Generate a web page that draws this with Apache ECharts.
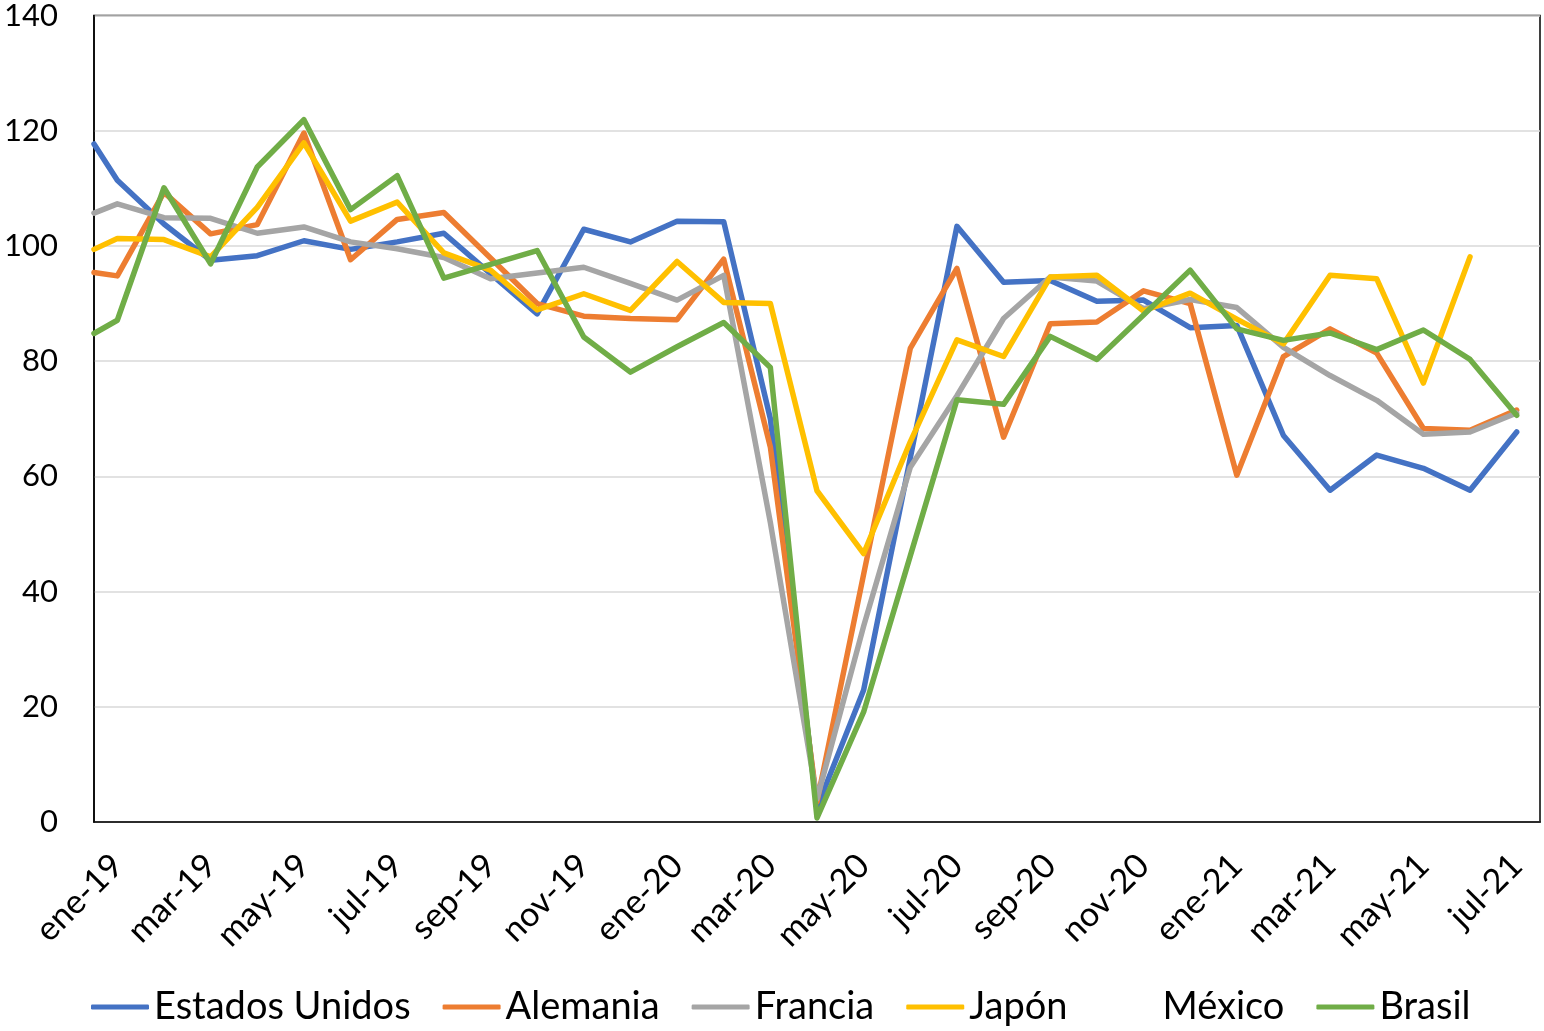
<!DOCTYPE html>
<html>
<head>
<meta charset="utf-8">
<script src="https://cdn.jsdelivr.net/npm/echarts@6/dist/echarts.min.js"></script>
<style>
  html, body { margin: 0; padding: 0; background: #fff; }
  #chart { width: 1544px; height: 1031px; }
</style>
</head>
<body>
<div id="chart"></div>
<script>
var months = [
  "ene-19", "feb-19", "mar-19", "abr-19", "may-19", "jun-19", "jul-19", "ago-19",
  "sep-19", "oct-19", "nov-19", "dic-19", "ene-20", "feb-20", "mar-20", "abr-20",
  "may-20", "jun-20", "jul-20", "ago-20", "sep-20", "oct-20", "nov-20", "dic-20",
  "ene-21", "feb-21", "mar-21", "abr-21", "may-21", "jun-21", "jul-21"
];

// first value sits on the left edge, the others in the middle of each month
var estadosUnidos = [117.7, 111.4, 103.8, 97.5, 98.3, 100.9, 99.4, 100.7, 102.2, 95.2,
  88.2, 102.9, 100.7, 104.3, 104.2, 70.0, 2.5, 22.9, 63.2, 103.4, 93.7, 94.0, 90.4,
  90.6, 85.8, 86.2, 67.1, 57.6, 63.7, 61.4, 57.6, 67.7];
var alemania = [95.4, 94.8, 109.3, 102.1, 103.7, 119.6, 97.6, 104.6, 105.8, 97.9,
  90.0, 87.8, 87.4, 87.2, 97.7, 65.1, 3.5, 43.0, 82.2, 96.1, 66.8, 86.5, 86.8,
  92.2, 90.0, 60.2, 80.8, 85.6, 81.4, 68.3, 68.0, 71.5];
var francia = [105.7, 107.3, 104.9, 104.8, 102.2, 103.3, 100.7, 99.5, 98.0, 94.3,
  95.3, 96.3, 93.5, 90.6, 94.9, 52.0, 4.0, 34.0, 61.6, 74.0, 87.4, 94.6, 93.9,
  89.1, 90.7, 89.3, 82.4, 77.5, 73.2, 67.3, 67.7, 71.0];
var japon = [99.4, 101.3, 101.1, 98.1, 106.7, 117.9, 104.3, 107.6, 98.8, 95.8,
  88.9, 91.7, 88.8, 97.3, 90.2, 90.0, 57.5, 46.6, 66.0, 83.7, 80.8, 94.6, 94.9,
  88.7, 91.8, 87.3, 83.0, 94.9, 94.3, 76.2, 98.1, null];
var mexico = [];
var brasil = [84.8, 87.1, 110.1, 96.9, 113.7, 121.9, 106.3, 112.2, 94.4, 96.8,
  99.2, 84.2, 78.1, 82.5, 86.7, 78.9, 0.7, 19.1, 46.2, 73.3, 72.5, 84.3, 80.3,
  88.0, 95.8, 85.6, 83.6, 84.9, 82.0, 85.4, 80.3, 70.6];

var seriesNames = ["Estados Unidos", "Alemania", "Francia", "Japón", "México", "Brasil"];
var seriesData = [estadosUnidos, alemania, francia, japon, mexico, brasil];
var colors = ["#4472C4", "#ED7D31", "#A5A5A5", "#FFC000", "rgba(0,0,0,0)", "#70AD47"];

var font = "Lato";

function toPoints(vals) {
  var res = [];
  for (var i = 0; i < vals.length; i++) {
    res.push([i === 0 ? 0 : i - 0.5, vals[i]]);
  }
  return res;
}

var series = [];
for (var i = 0; i < seriesNames.length; i++) {
  series.push({
    name: seriesNames[i],
    type: "line",
    xAxisIndex: 1,
    showSymbol: false,
    silent: true,
    animation: false,
    lineStyle: { width: 5.5, cap: "round", join: "round" },
    data: toPoints(seriesData[i]),
  });
}

var chart = echarts.init(document.getElementById("chart"));
chart.setOption({
  color: colors,
  animation: false,
  grid: {
    left: 94,
    right: 4,
    top: 15,
    bottom: 209,
    show: true,
    borderColor: "#000",
    borderWidth: 1.5,
  },
  legend: {
    bottom: 0,
    left: 86,
    icon: "roundRect",
    itemWidth: 58,
    itemHeight: 5,
    itemGap: 32,
    data: seriesNames,
    textStyle: { fontFamily: font, fontSize: 38, color: "#000" },
  },
  xAxis: [
    {
      type: "category",
      data: months,
      boundaryGap: true,
      axisLine: { lineStyle: { color: "#000", width: 1.5 } },
      axisTick: { interval: 1, length: 10, lineStyle: { color: "#000", width: 1.5 } },
      axisLabel: {
        interval: 1,
        rotate: 45,
        margin: 38,
        color: "#000",
        fontFamily: font,
        fontSize: 34,
      },
    },
    { type: "value", min: 0, max: 31, show: false },
  ],
  yAxis: {
    type: "value",
    min: 0,
    max: 140,
    interval: 20,
    axisLine: { show: true, lineStyle: { color: "#000", width: 1.5 } },
    axisTick: { show: false },
    splitLine: { lineStyle: { color: "#D9D9D9", width: 1.5 } },
    axisLabel: { margin: 36, color: "#000", fontFamily: font, fontSize: 31 },
  },
  series: series,
});
</script>
</body>
</html>
